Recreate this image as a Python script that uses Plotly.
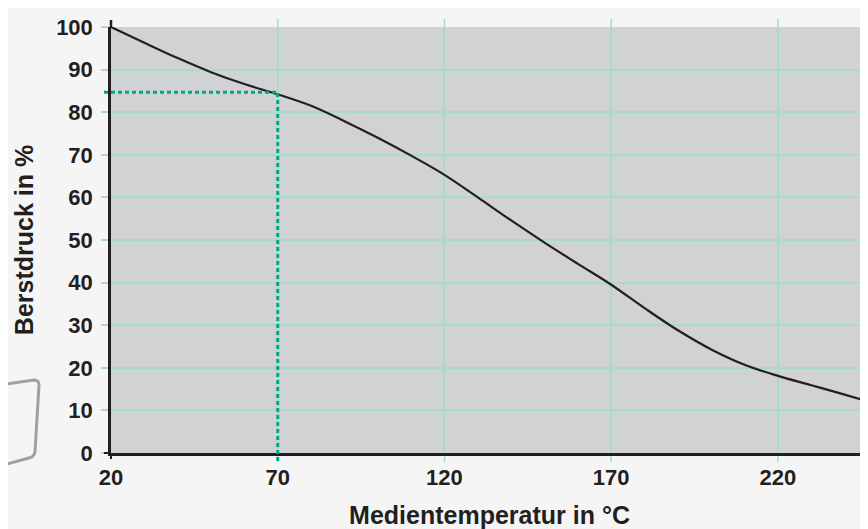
import plotly.graph_objects as go

# Data
temperature = [20, 30, 40, 50, 60, 70, 80, 90, 100, 110, 120, 130, 140, 150,
               160, 170, 180, 190, 200, 210, 220, 230, 240, 247]
burst_pressure = [100, 96.3, 92.7, 89.4, 86.6, 84.2, 81.5, 77.9, 74.0, 69.8,
                  65.3, 60.0, 54.6, 49.4, 44.4, 39.5, 34.0, 28.8, 24.3, 20.7,
                  18.1, 15.9, 13.7, 12.1]
x_ticks = [20, 70, 120, 170, 220]
y_ticks = [0, 10, 20, 30, 40, 50, 60, 70, 80, 90, 100]
marker_temp = 70
marker_pressure = 84.7

X_MIN, X_MAX = 20, 247
Y_MIN, Y_MAX = 0, 100

GRID = "#a8dcc6"
DOT = "#00a882"
DARK = "#231f20"
FONT = "Liberation Sans"

# page body has an 8px margin; compensate so the plot area lands where it should
OFF = 8
L, T, B = 111 - OFF, 27 - OFF, 76
W, H = 868 - OFF, 529 - OFF
PW, PH = W - L, H - T - B  # plot area size in px

fig = go.Figure()
fig.add_trace(go.Scatter(
    x=temperature, y=burst_pressure, mode="lines",
    line=dict(color=DARK, width=2.2, shape="spline", smoothing=1.0),
    hoverinfo="skip", showlegend=False,
))

shapes = []
# vertical gridline extensions above and below the plot area
for t in x_ticks[1:]:
    shapes.append(dict(type="line", xref="x", yref="paper", x0=t, x1=t,
                       y0=1, y1=1 + 8 / PH, line=dict(color=GRID, width=1.5),
                       layer="below"))
    shapes.append(dict(type="line", xref="x", yref="paper", x0=t, x1=t,
                       y0=-9 / PH, y1=0, line=dict(color=GRID, width=1.5),
                       layer="below"))
# y axis line extension above 100
shapes.append(dict(type="line", xref="paper", yref="paper", x0=0, x1=0,
                   y0=1, y1=1 + 7 / PH, line=dict(color=DARK, width=2.5)))
# dark zero ticks
shapes.append(dict(type="line", xref="paper", yref="paper", x0=-7 / PW, x1=0,
                   y0=0, y1=0, line=dict(color=DARK, width=2)))
shapes.append(dict(type="line", xref="paper", yref="paper", x0=0, x1=0,
                   y0=-6 / PH, y1=0, line=dict(color=DARK, width=2)))
# dotted marker lines
frac70 = (marker_temp - X_MIN) / (X_MAX - X_MIN)
shapes.append(dict(type="line", xref="paper", yref="y", x0=-7 / PW, x1=frac70,
                   y0=marker_pressure, y1=marker_pressure,
                   line=dict(color=DOT, width=3, dash="4px,3px")))
shapes.append(dict(type="line", xref="x", yref="paper", x0=marker_temp,
                   x1=marker_temp, y0=-8 / PH,
                   y1=(marker_pressure - Y_MIN) / (Y_MAX - Y_MIN),
                   line=dict(color=DOT, width=3, dash="4px,3px")))

# decorative rounded square in the background (left edge), page pixels
def px(xp):
    return (xp - 111) / PW
def py(yp):
    return (453 - yp) / PH
path = (f"M {px(0)},{py(385)} L {px(34)},{py(380)} "
        f"Q {px(39)},{py(380)} {px(39)},{py(385)} "
        f"L {px(35)},{py(452)} Q {px(34)},{py(457)} {px(29)},{py(458)} "
        f"L {px(0)},{py(466)}")
shapes.append(dict(type="path", xref="paper", yref="paper", path=path,
                   line=dict(color="#a0a0a0", width=3), layer="below"))

fig.update_layout(
    width=W, height=H,
    margin=dict(l=L, r=0, t=T, b=B, pad=0),
    paper_bgcolor="#f5f5f5",
    plot_bgcolor="#d1d2d4",
    font=dict(family=FONT, color=DARK),
    shapes=shapes,
    xaxis=dict(
        range=[X_MIN, X_MAX], tickvals=x_ticks,
        ticktext=[str(v) for v in x_ticks],
        showgrid=True, gridcolor=GRID, gridwidth=1.5,
        ticks="",
        tickfont=dict(size=22, family=FONT, weight="bold", color=DARK),
        ticklabelstandoff=3,
        showline=True, linecolor=DARK, linewidth=2.5,
        zeroline=False,
        title=dict(text="Medientemperatur in °C", standoff=20,
                   font=dict(size=25, family=FONT, weight="bold", color=DARK)),
    ),
    yaxis=dict(
        range=[Y_MIN, Y_MAX], tickvals=y_ticks,
        ticktext=[str(v) for v in y_ticks],
        showgrid=True, gridcolor=GRID, gridwidth=1.5,
        ticks="outside", ticklen=7, tickcolor=GRID, tickwidth=1.5,
        tickfont=dict(size=22, family=FONT, weight="bold", color=DARK),
        ticklabelstandoff=4,
        showline=True, linecolor=DARK, linewidth=2.5,
        zeroline=False,
        title=dict(text="Berstdruck in %", standoff=16,
                   font=dict(size=25, family=FONT, weight="bold", color=DARK)),
    ),
)

fig.write_html("out.html")
